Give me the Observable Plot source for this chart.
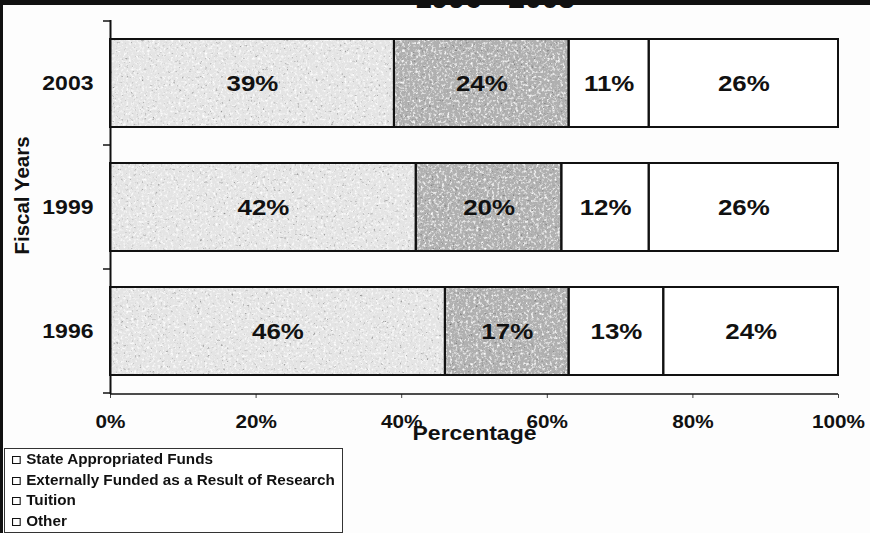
<!DOCTYPE html>
<html>
<head>
<meta charset="utf-8">
<script src="https://cdn.jsdelivr.net/npm/d3@7"></script>
<script src="https://cdn.jsdelivr.net/npm/@observablehq/plot@0.6"></script>
<style>
  body { margin: 0; background: #fff; }
  #page { position: relative; width: 870px; height: 533px; overflow: hidden; background: #fdfdfd;
          font-family: "Liberation Sans", Arial, Helvetica, sans-serif; color: #111; }
  #band { position: absolute; left: 0; top: 0; width: 870px; height: 5px; background: #111; z-index: 3; }
  #edge { position: absolute; left: 0; top: 0; width: 3px; height: 533px; background: #111; z-index: 3; }
  #title { position: absolute; left: 0; width: 990px; top: -17px; text-align: center; font-size: 30px;
           line-height: 30px; font-weight: bold; color: #111; z-index: 2; white-space: nowrap; }
  #chart { position: absolute; left: 0; top: 0; }
  #legend { position: absolute; left: 4px; top: 448px; width: 337px; height: 83px; border: 1px solid #333;
            background: #fff; }
  .item { position: absolute; left: 7px; height: 20px; line-height: 20px; font-size: 14px; font-weight: bold;
          white-space: nowrap; transform-origin: 0 50%; transform: scaleX(1.09); }
  .swatch { display: inline-block; width: 6px; height: 6px; border: 1.8px solid #111; background: #fff;
            margin-right: 5px; vertical-align: 0px; }
</style>
</head>
<body>
<div id="page">
  <div id="title">1996 - 2003</div>
  <div id="band"></div>
  <div id="edge"></div>
  <div id="chart"></div>
  <div id="legend"></div>
</div>
<script>
// Funding sources by fiscal year, in percent of the total
const years = ["2003", "1999", "1996"];
const sources = [
  "State Appropriated Funds",
  "Externally Funded as a Result of Research",
  "Tuition",
  "Other"
];
const shares2003 = [39, 24, 11, 26];
const shares1999 = [42, 20, 12, 26];
const shares1996 = [46, 17, 13, 24];
const xTicks = [0, 20, 40, 60, 80, 100];

const sharesByYear = {"2003": shares2003, "1999": shares1999, "1996": shares1996};
const sourceFills = ["#e4e4e4", "#b0b0b0", "#ffffff", "#ffffff"];
const ink = "#111";
const font = "'Liberation Sans', Arial, Helvetica, sans-serif";

const rows = years.flatMap(year =>
  sources.map((source, j) => ({year, source, share: sharesByYear[year][j]}))
);

const W = 870, H = 446;
const plot = Plot.plot({
  width: W,
  height: H,
  marginLeft: 110,
  marginRight: 32,
  marginTop: 20,
  marginBottom: 52,
  style: {fontFamily: font, background: "transparent", color: ink, overflow: "visible"},
  x: {domain: [0, 100]},
  y: {domain: years, paddingInner: 0.288, paddingOuter: 0.144},
  color: {domain: sources, range: sourceFills},
  marks: [
    // fills first (textured below), outlines on top
    Plot.barX(rows, Plot.stackX({x: "share", y: "year", fill: "source"})),
    Plot.barX(rows, Plot.stackX({x: "share", y: "year", z: "source", fill: "none", stroke: ink, strokeWidth: 2})),
    Plot.text(rows, Plot.stackX({
      x: "share", y: "year", z: "source",
      text: d => d.share + "%",
      fontSize: 22.5, fontWeight: "bold", fill: ink
    })),
    Plot.ruleX([0], {stroke: ink, strokeWidth: 2}),
    Plot.axisX({
      ticks: xTicks, tickFormat: d => d + "%", tickSize: 4, tickPadding: 17,
      fontSize: 18, fontWeight: "bold", label: null, stroke: "#444"
    }),
    Plot.axisY({tickSize: 0, tickPadding: 17, fontSize: 20, fontWeight: "bold", label: null}),
    Plot.text(["Percentage"], {
      frameAnchor: "bottom", lineAnchor: "top", dy: 31,
      fontSize: 20, fontWeight: "bold", fill: ink
    }),
    Plot.text(["Fiscal Years"], {
      frameAnchor: "left", textAnchor: "middle", rotate: -90, dx: -88, dy: -12,
      fontSize: 20.5, fontWeight: "bold", fill: ink
    })
  ]
});

document.getElementById("chart").appendChild(plot);

const svg = d3.select(plot);

// Stippled grain for the shaded segments
const defs = svg.insert("defs", ":first-child");
const grain = defs.append("filter").attr("id", "grain");
grain.append("feTurbulence").attr("type", "fractalNoise").attr("baseFrequency", 0.38)
  .attr("numOctaves", 3).attr("seed", 4).attr("result", "n");
grain.append("feColorMatrix").attr("in", "n").attr("type", "matrix")
  .attr("values", "0 0 0 0 1  0 0 0 0 1  0 0 0 0 1  2.8 0 0 0 -1.4").attr("result", "light");
grain.append("feColorMatrix").attr("in", "n").attr("type", "matrix")
  .attr("values", "0 0 0 0 0  0 0 0 0 0  0 0 0 0 0  0 -2.4 0 0 0.85").attr("result", "dark");
const merge = grain.append("feMerge").attr("result", "tex");
merge.append("feMergeNode").attr("in", "light");
merge.append("feMergeNode").attr("in", "dark");
grain.append("feComposite").attr("in", "tex").attr("in2", "SourceGraphic").attr("operator", "atop");

svg.selectAll("rect").filter(function () {
  const f = (this.getAttribute("fill") || "").toLowerCase();
  return f === sourceFills[0] || f === sourceFills[1];
}).attr("filter", "url(#grain)");

// Axis line along the bottom and tick marks on the category boundaries
const xs = plot.scale("x");
const ys = plot.scale("y");
const yBottom = H - 52;
svg.append("line")
  .attr("x1", xs.apply(0)).attr("x2", xs.apply(100))
  .attr("y1", yBottom).attr("y2", yBottom)
  .attr("stroke", ink).attr("stroke-width", 1.6);
const gap = ys.step - ys.bandwidth;
const bounds = years.map(y => ys.apply(y) - gap / 2)
  .concat([ys.apply(years[years.length - 1]) + ys.bandwidth + gap / 2]);
svg.append("g").selectAll("line").data(bounds).join("line")
  .attr("x1", xs.apply(0) - 7).attr("x2", xs.apply(0))
  .attr("y1", d => d).attr("y2", d => d)
  .attr("stroke", ink).attr("stroke-width", 1.5);

// Slightly wide lettering (the rotated axis title keeps its natural width)
plot.querySelectorAll("text").forEach(t => {
  if (t.textContent === "Fiscal Years") return;
  const len = t.getComputedTextLength();
  if (len > 0) {
    t.setAttribute("textLength", (len * 1.15).toFixed(1));
    t.setAttribute("lengthAdjust", "spacingAndGlyphs");
  }
});

// Legend
const legend = d3.select("#legend");
sources.forEach((s, i) => {
  const item = legend.append("div").attr("class", "item").style("top", (i * 20.5) + "px");
  item.append("span").attr("class", "swatch");
  item.append("span").text(s);
});
</script>
</body>
</html>
